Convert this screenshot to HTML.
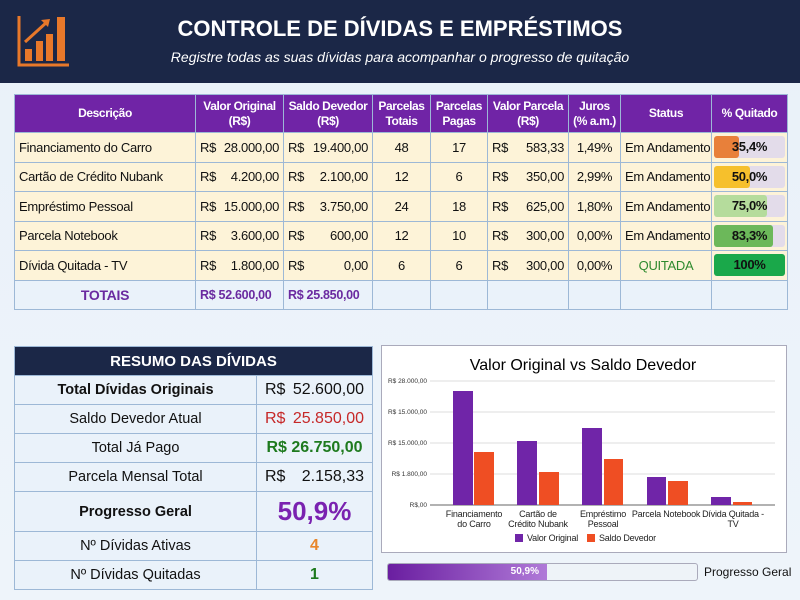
<!DOCTYPE html>
<html><head><meta charset="utf-8"><style>
*{box-sizing:border-box;margin:0;padding:0}
body{width:800px;height:600px;overflow:hidden;background:linear-gradient(180deg,#e9f1f9,#eef4fa);font-family:"Liberation Sans",sans-serif;position:relative;color:#111}
.hdr{position:absolute;left:0;top:0;width:800px;height:83px;background:#1b2747}
.t1{position:absolute;left:0;width:800px;top:16px;text-align:center;color:#fff;font-weight:bold;font-size:22px}
.t2{position:absolute;left:0;width:800px;top:49px;text-align:center;color:#fff;font-style:italic;font-size:14px}
.ab{position:absolute}
table{border-collapse:collapse;position:absolute;table-layout:fixed}
td,th{border:1px solid #9db8d6;font-size:13px;white-space:nowrap;overflow:hidden}
.main th{background:#7024a6;color:#fff;font-size:12px;letter-spacing:-0.4px;line-height:15px;font-weight:bold;height:38px}
.main td{background:#fdf3d8;height:29.5px;padding:0 4px;font-size:13px;letter-spacing:-0.3px}
.main tr.tot td{background:#eaf2fa;color:#6a2aa0;font-weight:bold;font-size:12.5px}
.c{text-align:center}
.m{display:flex;justify-content:space-between}
.bar{position:relative;height:22px;background:#e3dcea;border-radius:3px;text-align:center;font-weight:bold;line-height:22px}
.bar i{position:absolute;left:0;top:0;bottom:0;border-radius:3px}
.bar span{position:relative}
.sum td{background:#eaf2fa;height:29px;font-size:14.5px;text-align:center}
</style></head><body>
<div class="hdr"></div>
<svg class="ab" style="left:17px;top:14px" width="54" height="54" viewBox="0 0 54 54">
<path d="M2 2V51H52" stroke="#e8782a" stroke-width="3" fill="none"/>
<rect x="8" y="35" width="7" height="12" fill="#e8782a"/><rect x="19" y="27" width="7" height="20" fill="#e8782a"/><rect x="29" y="20" width="7" height="27" fill="#e8782a"/><rect x="40" y="3" width="8" height="44" fill="#e8782a"/>
<path d="M8 28L30 8" stroke="#e8782a" stroke-width="3"/><path d="M24 6L33 5L31 13Z" fill="#e8782a"/>
</svg>
<div class="t1">CONTROLE DE DÍVIDAS E EMPRÉSTIMOS</div>
<div class="t2">Registre todas as suas dívidas para acompanhar o progresso de quitação</div>

<table class="main" style="left:14px;top:94px;width:773px">
<colgroup><col style="width:181px"><col style="width:88px"><col style="width:89px"><col style="width:58px"><col style="width:57px"><col style="width:81px"><col style="width:52px"><col style="width:91px"><col style="width:76px"></colgroup>
<tr><th>Descrição</th><th>Valor Original<br>(R$)</th><th>Saldo Devedor<br>(R$)</th><th>Parcelas<br>Totais</th><th>Parcelas<br>Pagas</th><th>Valor Parcela<br>(R$)</th><th>Juros<br>(% a.m.)</th><th>Status</th><th>% Quitado</th></tr>
<tr><td>Financiamento do Carro</td><td><div class="m"><span>R$</span><span>28.000,00</span></div></td><td><div class="m"><span>R$</span><span>19.400,00</span></div></td><td class="c">48</td><td class="c">17</td><td><div class="m"><span>R$</span><span>583,33</span></div></td><td class="c">1,49%</td><td>Em Andamento</td><td style="padding:0 2px"><div class="bar"><i style="width:35%;background:#e8803a"></i><span>35,4%</span></div></td></tr>
<tr><td>Cartão de Crédito Nubank</td><td><div class="m"><span>R$</span><span>4.200,00</span></div></td><td><div class="m"><span>R$</span><span>2.100,00</span></div></td><td class="c">12</td><td class="c">6</td><td><div class="m"><span>R$</span><span>350,00</span></div></td><td class="c">2,99%</td><td>Em Andamento</td><td style="padding:0 2px"><div class="bar"><i style="width:50%;background:#f6c02c"></i><span>50,0%</span></div></td></tr>
<tr><td>Empréstimo Pessoal</td><td><div class="m"><span>R$</span><span>15.000,00</span></div></td><td><div class="m"><span>R$</span><span>3.750,00</span></div></td><td class="c">24</td><td class="c">18</td><td><div class="m"><span>R$</span><span>625,00</span></div></td><td class="c">1,80%</td><td>Em Andamento</td><td style="padding:0 2px"><div class="bar"><i style="width:75%;background:#b5dc9c"></i><span>75,0%</span></div></td></tr>
<tr><td>Parcela Notebook</td><td><div class="m"><span>R$</span><span>3.600,00</span></div></td><td><div class="m"><span>R$</span><span>600,00</span></div></td><td class="c">12</td><td class="c">10</td><td><div class="m"><span>R$</span><span>300,00</span></div></td><td class="c">0,00%</td><td>Em Andamento</td><td style="padding:0 2px"><div class="bar"><i style="width:83%;background:#6cb85a"></i><span>83,3%</span></div></td></tr>
<tr><td>Dívida Quitada - TV</td><td><div class="m"><span>R$</span><span>1.800,00</span></div></td><td><div class="m"><span>R$</span><span>0,00</span></div></td><td class="c">6</td><td class="c">6</td><td><div class="m"><span>R$</span><span>300,00</span></div></td><td class="c">0,00%</td><td class="c" style="color:#2e8a2e">QUITADA</td><td style="padding:0 2px"><div class="bar"><i style="width:100%;background:#1aa84a"></i><span>100%</span></div></td></tr>
<tr class="tot"><td class="c" style="font-size:14px">TOTAIS</td><td>R$ 52.600,00</td><td>R$ 25.850,00</td><td></td><td></td><td></td><td></td><td></td><td></td></tr>
</table>

<table class="sum" style="left:14px;top:346px;width:358px">
<colgroup><col style="width:242px"><col style="width:116px"></colgroup>
<tr style="height:29px"><th colspan="2" style="background:#1b2747;color:#fff;font-size:15px">RESUMO DAS DÍVIDAS</th></tr>
<tr><td style="font-weight:bold">Total Dívidas Originais</td><td><div class="m" style="padding:0 8px;font-size:16px"><span>R$</span><span>52.600,00</span></div></td></tr>
<tr><td>Saldo Devedor Atual</td><td><div class="m" style="padding:0 8px;font-size:16px;color:#c62828"><span>R$</span><span>25.850,00</span></div></td></tr>
<tr><td>Total Já Pago</td><td style="color:#1e7a1e;font-weight:bold;font-size:16px">R$ 26.750,00</td></tr>
<tr><td>Parcela Mensal Total</td><td><div class="m" style="padding:0 8px;font-size:16px"><span>R$</span><span>2.158,33</span></div></td></tr>
<tr style="height:40px"><td style="font-weight:bold">Progresso Geral</td><td style="color:#7a22b0;font-weight:bold;font-size:26px">50,9%</td></tr>
<tr><td>Nº Dívidas Ativas</td><td style="color:#e8862a;font-weight:bold;font-size:16px">4</td></tr>
<tr><td>Nº Dívidas Quitadas</td><td style="color:#1e7a1e;font-weight:bold;font-size:16px">1</td></tr>
</table>

<svg class="ab" style="left:381px;top:345px" width="407" height="209" viewBox="381 345 407 209">
<rect x="381.5" y="345.5" width="405" height="207" fill="#fff" stroke="#aab" />
<text x="583" y="370" text-anchor="middle" font-size="16" font-family="Liberation Sans">Valor Original vs Saldo Devedor</text>
<g stroke="#ddd"><line x1="430" x2="775" y1="381" y2="381"/><line x1="430" x2="775" y1="412" y2="412"/><line x1="430" x2="775" y1="443" y2="443"/><line x1="430" x2="775" y1="474" y2="474"/></g>
<line x1="430" x2="775" y1="505" y2="505" stroke="#666"/>
<g font-size="6.5" font-family="Liberation Sans" text-anchor="end" fill="#333"><text x="427" y="383">R$ 28.000,00</text><text x="427" y="414">R$ 15.000,00</text><text x="427" y="445">R$ 15.000,00</text><text x="427" y="476">R$ 1.800,00</text><text x="427" y="507">R$,00</text></g>
<g fill="#7025a8"><rect x="453" y="391" width="20" height="114"/><rect x="517" y="441" width="20" height="64"/><rect x="582" y="428" width="20" height="77"/><rect x="647" y="477" width="19" height="28"/><rect x="711" y="497" width="20" height="8"/></g>
<g fill="#ef4e23"><rect x="474" y="452" width="20" height="53"/><rect x="539" y="472" width="20" height="33"/><rect x="604" y="459" width="19" height="46"/><rect x="668" y="481" width="20" height="24"/><rect x="733" y="502" width="19" height="3"/></g>
<g font-size="9" font-family="Liberation Sans" text-anchor="middle" fill="#222" letter-spacing="-0.2"><text x="474" y="517">Financiamento</text><text x="474" y="527">do Carro</text><text x="538" y="517">Cartão de</text><text x="538" y="527">Crédito Nubank</text><text x="603" y="517">Empréstimo</text><text x="603" y="527">Pessoal</text><text x="666" y="517">Parcela Notebook</text><text x="733" y="517">Dívida Quitada -</text><text x="733" y="527">TV</text>
<rect x="515" y="534" width="8" height="8" fill="#7025a8"/><text x="527" y="541" text-anchor="start">Valor Original</text><rect x="587" y="534" width="8" height="8" fill="#ef4e23"/><text x="599" y="541" text-anchor="start">Saldo Devedor</text></g>
</svg>

<div class="ab" style="left:387px;top:563px;width:311px;height:18px;border:1px solid #aab;border-radius:3px;background:#eef3f8;overflow:hidden"><div style="width:159px;height:100%;background:linear-gradient(90deg,#6a1ea0,#b07ad8);color:#fff;font-size:10px;font-weight:bold;text-align:right;padding-right:8px;line-height:16px">50,9%</div></div>
<div class="ab" style="left:704px;top:565px;font-size:12px">Progresso Geral</div>
</body></html>
